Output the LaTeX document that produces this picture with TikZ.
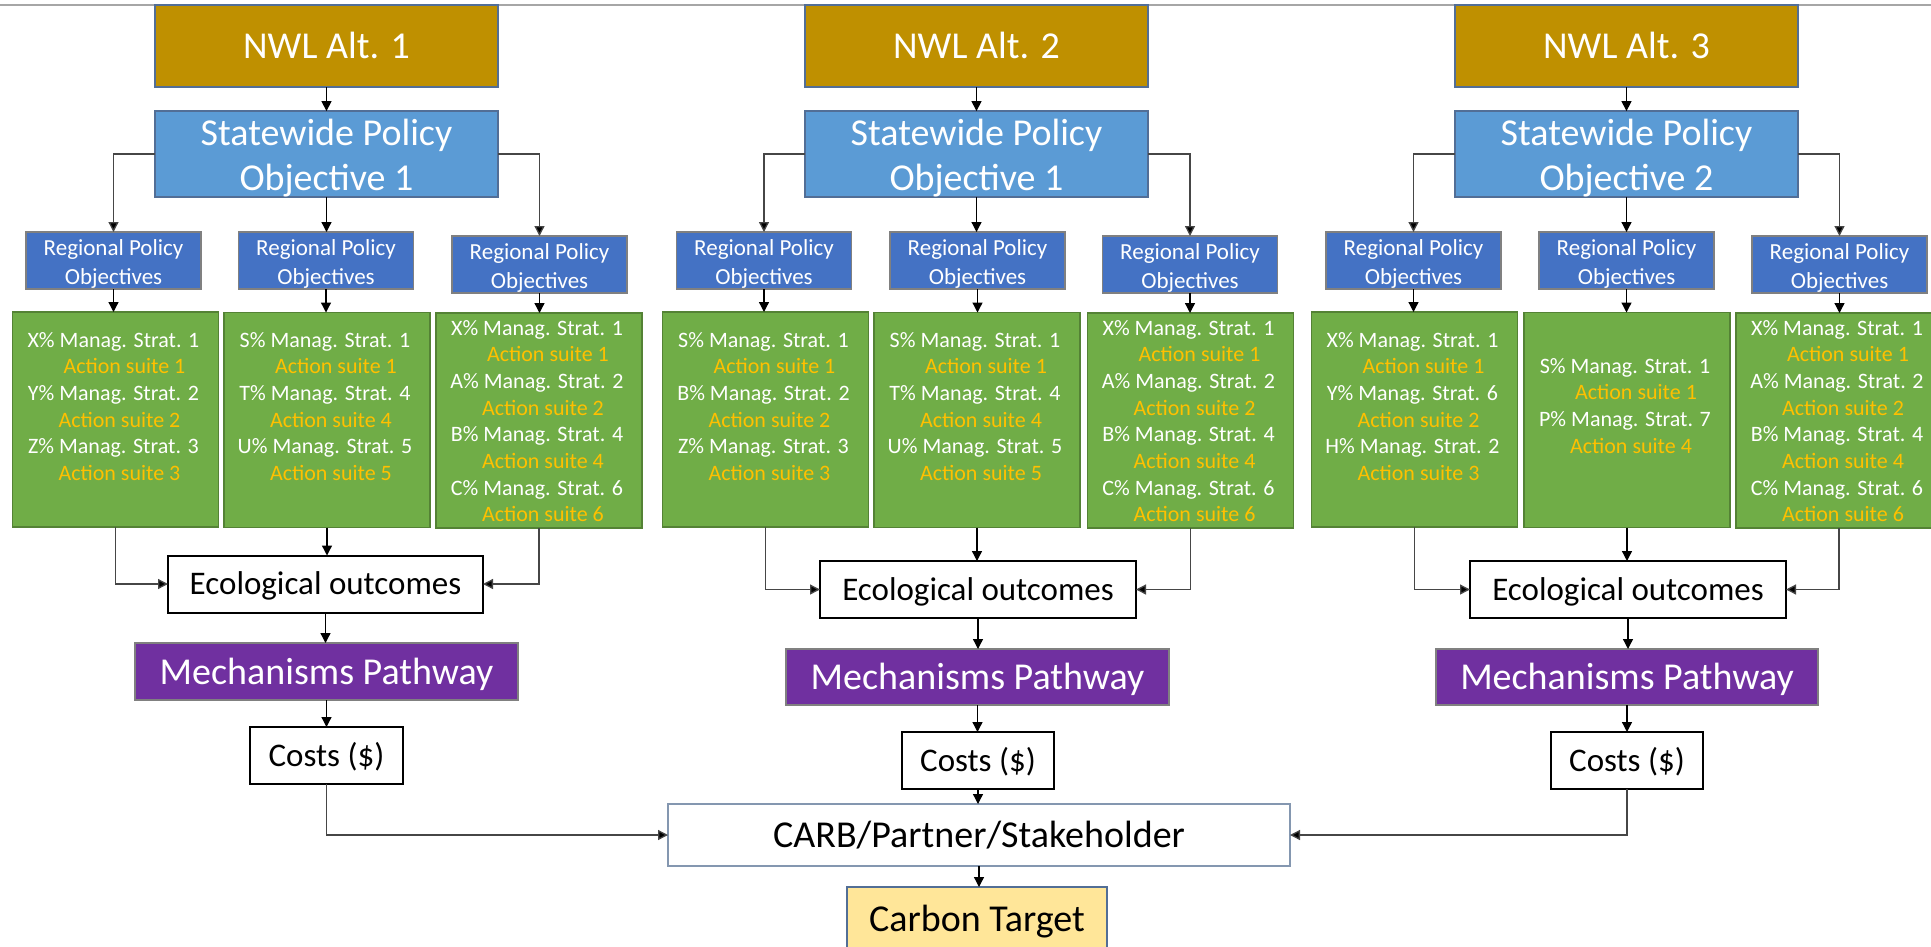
\documentclass[tikz,border=0pt]{standalone}
\usepackage{fontspec}
\setmainfont{Carlito}
\usetikzlibrary{arrows.meta}
\definecolor{nwlgold}{RGB}{191,144,0}
\definecolor{swblue}{RGB}{91,155,213}
\definecolor{regblue}{RGB}{68,114,196}
\definecolor{grn}{RGB}{112,173,71}
\definecolor{grnborder}{RGB}{84,130,53}
\definecolor{actcol}{RGB}{255,192,0}
\definecolor{purp}{RGB}{112,48,160}
\definecolor{yell}{RGB}{255,230,153}
\definecolor{steel}{RGB}{82,110,150}
\definecolor{grayb}{RGB}{128,128,128}
\definecolor{carbb}{RGB}{132,151,176}
\definecolor{linegray}{RGB}{70,70,70}
\definecolor{topgray}{RGB}{166,166,166}
\newcommand\swtop{\rule{0pt}{34pt}}
\newcommand\regtop{\rule{0pt}{22pt}}
\tikzset{
  bx/.style={rectangle, inner sep=0pt, outer sep=0pt, align=center},
  nwl/.style={bx, fill=nwlgold, draw=steel, line width=1.5pt, minimum width=343pt, minimum height=82pt,
    font=\fontsize{38}{45}\selectfont, text=white, text height=25pt, text depth=0pt},
  sw/.style={bx, fill=swblue, draw=steel, line width=1.5pt, minimum width=343pt, minimum height=82pt,
    font=\fontsize{38}{45.3}\selectfont, text=white},
  reg/.style={bx, fill=regblue, draw=grayb, line width=1.5pt, minimum width=175pt, minimum height=57pt,
    font=\fontsize{23}{29}\selectfont, text=white},
  gbx/.style={bx, fill=grn, draw=grnborder, line width=1.5pt, minimum width=206pt, minimum height=215pt},
  gtxt/.style={inner sep=0pt, anchor=base, font=\fontsize{22}{26.7}\selectfont},
  eco/.style={bx, fill=white, draw=black, line width=2pt, minimum width=315pt, minimum height=57pt,
    font=\fontsize{33}{40}\selectfont, text=black, text height=21.8pt, text depth=0pt},
  mech/.style={bx, fill=purp, draw=grayb, line width=1.5pt, minimum width=383pt, minimum height=57pt,
    font=\fontsize{38}{45}\selectfont, text=white, text height=25pt, text depth=0pt},
  cost/.style={bx, fill=white, draw=black, line width=2pt, minimum width=152pt, minimum height=57pt,
    font=\fontsize{33}{40}\selectfont, text=black, text height=21.8pt, text depth=0pt},
  carb/.style={bx, fill=white, draw=carbb, line width=1.8pt, minimum width=622pt, minimum height=62pt,
    font=\fontsize{38}{45}\selectfont, text=black, text height=25pt, text depth=0pt},
  ctgt/.style={bx, fill=yell, draw=steel, line width=1.5pt, minimum width=260pt, minimum height=64pt,
    font=\fontsize{38}{45}\selectfont, text=black, text height=25pt, text depth=0pt},
  arr/.style={draw=black, line width=1.3pt, -{Triangle[length=10pt,width=10pt]}},
  elb/.style={draw=linegray, line width=1.3pt, -{Triangle[length=10pt,width=10pt,fill=black]}},
}
\newcommand\greenbox[5]{%
  \node[gbx] (#1) at (#2,#3) {};
  \foreach \dx/\gline [count=\i] in {#5} {%
    \ifodd\i\relax
      \node[gtxt, text=white] (#1-\i) at (#2+\dx,#4+\i*26.7-26.7) {\gline};
    \else
      \node[gtxt, text=actcol] (#1-\i) at (#2+\dx,#4+\i*26.7-26.7) {\gline};
    \fi
  }%
}
\newcommand\altconn[1]{%
  \draw[arr] (NWL#1.south) -- (NWL#1.south |- SW#1.north);
  \draw[elb] (SW#1.west) -| (R#11.north);
  \draw[arr] (SW#1.south) -- (SW#1.south |- R#12.north);
  \draw[elb] (SW#1.east) -| (R#13.north);
  \draw[arr] (R#11.south) -- (R#11.south |- G#11.north);
  \draw[arr] (R#12.south) -- (R#12.south |- G#12.north);
  \draw[arr] (R#13.south) -- (R#13.south |- G#13.north);
  \draw[elb] (G#11.south) |- (E#1.west);
  \draw[arr] (G#12.south) -- (G#12.south |- E#1.north);
  \draw[elb] (G#13.south) |- (E#1.east);
  \draw[arr] (E#1.south) -- (E#1.south |- M#1.north);
  \draw[arr] (M#1.south) -- (M#1.south |- C#1.north);
}
\begin{document}
\begin{tikzpicture}[x=1pt,y=-1pt]
\useasboundingbox (0,0) rectangle (1931,946);
\fill[white] (0,0) rectangle (1931,946);
\draw[topgray, line width=1.5pt] (0,5) -- (1931,5);

% ---------- Alt 1 ----------
\node[nwl] (NWL1) at (326.5,46) {NWL Alt. 1};
\node[sw] (SW1) at (326.5,154) {\swtop Statewide Policy\\Objective 1};
\node[reg] (R11) at (113.5,260.5) {\regtop Regional Policy\\Objectives};
\node[reg] (R12) at (326,260.5) {\regtop Regional Policy\\Objectives};
\node[reg] (R13) at (539.5,264.5) {\regtop Regional Policy\\Objectives};
\greenbox{G11}{115.5}{419.5}{347}{-2/X\% Manag. Strat. 1, 9/Action suite 1, -2/Y\% Manag. Strat. 2, 4/Action suite 2, -2/Z\% Manag. Strat. 3, 4/Action suite 3}
\greenbox{G12}{327}{420}{347}{-2/S\% Manag. Strat. 1, 9/Action suite 1, -2/T\% Manag. Strat. 4, 4/Action suite 4, -2/U\% Manag. Strat. 5, 4/Action suite 5}
\greenbox{G13}{539}{420.5}{335}{-2/X\% Manag. Strat. 1, 9/Action suite 1, -2/A\% Manag. Strat. 2, 4/Action suite 2, -2/B\% Manag. Strat. 4, 4/Action suite 4, -2/C\% Manag. Strat. 6, 4/Action suite 6}
\node[eco] (E1) at (325.5,584) {Ecological outcomes};
\node[mech] (M1) at (326.5,671.5) {Mechanisms Pathway};
\node[cost, minimum width=153pt] (C1) at (326.5,755.5) {Costs (\$)};

% ---------- Alt 2 ----------
\node[nwl] (NWL2) at (976.5,46) {NWL Alt. 2};
\node[sw] (SW2) at (976.5,154) {\swtop Statewide Policy\\Objective 1};
\node[reg] (R21) at (764,260.5) {\regtop Regional Policy\\Objectives};
\node[reg] (R22) at (977.5,260.5) {\regtop Regional Policy\\Objectives};
\node[reg] (R23) at (1190,264.5) {\regtop Regional Policy\\Objectives};
\greenbox{G21}{765.5}{419.5}{347}{-2/S\% Manag. Strat. 1, 9/Action suite 1, -2/B\% Manag. Strat. 2, 4/Action suite 2, -2/Z\% Manag. Strat. 3, 4/Action suite 3}
\greenbox{G22}{977}{420}{347}{-2/S\% Manag. Strat. 1, 9/Action suite 1, -2/T\% Manag. Strat. 4, 4/Action suite 4, -2/U\% Manag. Strat. 5, 4/Action suite 5}
\greenbox{G23}{1190.5}{420.5}{335}{-2/X\% Manag. Strat. 1, 9/Action suite 1, -2/A\% Manag. Strat. 2, 4/Action suite 2, -2/B\% Manag. Strat. 4, 4/Action suite 4, -2/C\% Manag. Strat. 6, 4/Action suite 6}
\node[eco, minimum width=316pt] (E2) at (978,589.5) {Ecological outcomes};
\node[mech, minimum height=56pt] (M2) at (977.5,677) {Mechanisms Pathway};
\node[cost] (C2) at (978,760.5) {Costs (\$)};

% ---------- Alt 3 ----------
\node[nwl] (NWL3) at (1626.5,46) {NWL Alt. 3};
\node[sw] (SW3) at (1626.5,154) {\swtop Statewide Policy\\Objective 2};
\node[reg] (R31) at (1413.5,260.5) {\regtop Regional Policy\\Objectives};
\node[reg] (R32) at (1626.5,260.5) {\regtop Regional Policy\\Objectives};
\node[reg] (R33) at (1839.5,264.5) {\regtop Regional Policy\\Objectives};
\greenbox{G31}{1414.5}{419.5}{347}{-2/X\% Manag. Strat. 1, 9/Action suite 1, -2/Y\% Manag. Strat. 6, 4/Action suite 2, -2/H\% Manag. Strat. 2, 4/Action suite 3}
\greenbox{G32}{1627}{420}{373}{-2/S\% Manag. Strat. 1, 9/Action suite 1, -2/P\% Manag. Strat. 7, 4/Action suite 4}
\greenbox{G33}{1839}{420.5}{335}{-2/X\% Manag. Strat. 1, 9/Action suite 1, -2/A\% Manag. Strat. 2, 4/Action suite 2, -2/B\% Manag. Strat. 4, 4/Action suite 4, -2/C\% Manag. Strat. 6, 4/Action suite 6}
\node[eco, minimum width=316pt] (E3) at (1628,589.5) {Ecological outcomes};
\node[mech, minimum width=382pt, minimum height=56pt] (M3) at (1627,677) {Mechanisms Pathway};
\node[cost] (C3) at (1627,760.5) {Costs (\$)};

% ---------- Bottom ----------
\node[carb] (CARB) at (979,835) {CARB/Partner/Stakeholder};
\node[ctgt] (CT) at (977,919) {Carbon Target};

% ---------- Connectors ----------
\altconn{1}
\altconn{2}
\altconn{3}
\draw[elb] (C1.south) |- (CARB.west);
\draw[arr] (C2.south) -- (C2.south |- CARB.north);
\draw[elb] (C3.south) |- (CARB.east);
\draw[arr] (CARB.south) -- (CARB.south |- CT.north);
\end{tikzpicture}
\end{document}
